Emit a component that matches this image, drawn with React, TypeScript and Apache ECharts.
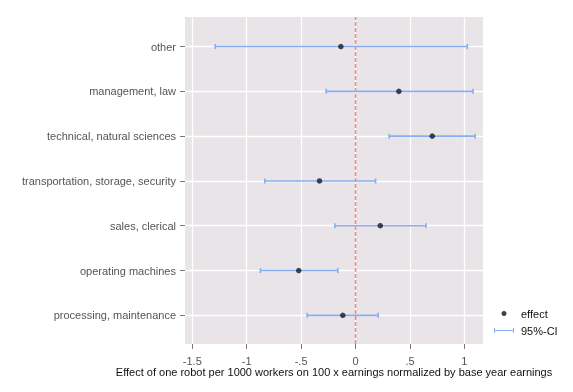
import React, { useEffect, useRef } from "react";
import * as echarts from "echarts";

const categories = [
  "processing, maintenance",
  "operating machines",
  "sales, clerical",
  "transportation, storage, security",
  "technical, natural sciences",
  "management, law",
  "other",
];
const effect = [-0.117, -0.522, 0.227, -0.331, 0.705, 0.398, -0.135];
const ciLow = [-0.445, -0.874, -0.19, -0.834, 0.309, -0.27, -1.29];
const ciHigh = [0.208, -0.163, 0.647, 0.184, 1.1, 1.079, 1.027];
const xTicks = [-1.5, -1, -0.5, 0, 0.5, 1];
const refLineX = 0;
const xTitle =
  "Effect of one robot per 1000 workers on 100 x earnings normalized by base year earnings";

const FONT = "Liberation Sans, Arial, sans-serif";
const CI_COLOR = "#86AEF0";
const Y_MIN = 0.36;
const Y_MAX = 7.66;

export default function App() {
  const ref = useRef<HTMLDivElement>(null);
  useEffect(() => {
    if (!ref.current) return;
    const chart = echarts.init(ref.current, undefined, { renderer: "svg" });
    const yPos = categories.map((_, i) => i + 1);
    const fmtX = (v: number) => {
      const s = String(v);
      return s.replace(/^0\./, ".").replace(/^-0\./, "-.");
    };
    chart.setOption({
      animation: false,
      textStyle: { fontFamily: FONT },
      grid: {
        left: 185,
        right: 90,
        top: 17,
        bottom: 48,
        show: true,
        backgroundColor: "#E8E4E8",
        borderWidth: 0,
      },
      legend: {
        orient: "vertical",
        left: 489,
        top: 303,
        itemWidth: 24,
        itemHeight: 5,
        itemGap: 6,
        textStyle: { fontSize: 11, color: "#111", fontFamily: FONT },
        data: [
          { name: "effect", icon: "circle", itemStyle: { color: "#111" } },
          {
            name: "95%-CI",
            icon: "path://M0,0H1V2H19V0H20V5H19V3H1V5H0Z",
            itemStyle: { color: CI_COLOR },
          },
        ],
      },
      xAxis: {
        type: "value",
        min: -1.567,
        max: 1.171,
        name: xTitle,
        nameLocation: "middle",
        nameGap: 22,
        nameMoveOverlap: false,
        nameTextStyle: {
          color: "#111",
          fontSize: 11,
          lineHeight: 11,
          fontFamily: FONT,
          verticalAlign: "top",
        },
        axisLine: { show: false, onZero: false },
        axisTick: {
          show: true,
          length: 5,
          customValues: xTicks,
          lineStyle: { color: "#777" },
        },
        axisLabel: {
          customValues: xTicks,
          formatter: (v: number) => fmtX(v),
          color: "#555",
          fontSize: 11,
          lineHeight: 11,
          margin: 11,
          fontFamily: FONT,
        },
        splitLine: { show: true, lineStyle: { color: "#ffffff", width: 1.3 } },
      },
      yAxis: {
        type: "value",
        min: Y_MIN,
        max: Y_MAX,
        axisLine: { show: false, onZero: false },
        axisTick: {
          show: true,
          length: 5,
          customValues: yPos,
          lineStyle: { color: "#777" },
        },
        axisLabel: {
          customValues: yPos,
          formatter: (v: number) => categories[Math.round(v) - 1] ?? "",
          color: "#555",
          fontSize: 11,
          margin: 9,
          fontFamily: FONT,
        },
        splitLine: { show: true, lineStyle: { color: "#ffffff", width: 1.3 } },
      },
      series: [
        {
          name: "zero",
          type: "line",
          silent: true,
          symbol: "none",
          data: [
            [refLineX, Y_MIN],
            [refLineX, Y_MAX],
          ],
          lineStyle: { color: "#EF8A8A", type: [4, 2], width: 1.6 },
          z: 3,
        },
        {
          name: "95%-CI",
          type: "custom",
          itemStyle: { color: CI_COLOR },
          data: categories.map((_, i) => [ciLow[i], ciHigh[i], i + 1]),
          encode: { x: [0, 1], y: 2 },
          renderItem: (params: any, api: any) => {
            const lo = api.coord([api.value(0), api.value(2)]);
            const hi = api.coord([api.value(1), api.value(2)]);
            const h = 2.5;
            const style = { stroke: CI_COLOR, lineWidth: 1.6, fill: "none" };
            return {
              type: "group",
              children: [
                { type: "line", shape: { x1: lo[0], y1: lo[1], x2: hi[0], y2: hi[1] }, style },
                { type: "line", shape: { x1: lo[0], y1: lo[1] - h, x2: lo[0], y2: lo[1] + h }, style },
                { type: "line", shape: { x1: hi[0], y1: hi[1] - h, x2: hi[0], y2: hi[1] + h }, style },
              ],
            };
          },
          z: 2,
        },
        {
          name: "effect",
          type: "scatter",
          symbol: "circle",
          symbolSize: 5.5,
          itemStyle: { color: "#151a26" },
          data: categories.map((_, i) => [effect[i], i + 1]),
          z: 4,
        },
      ],
    });
    return () => chart.dispose();
  }, []);
  return (
    <div
      ref={ref}
      style={{ position: "fixed", left: 0, top: 0, width: 573, height: 392 }}
    />
  );
}
